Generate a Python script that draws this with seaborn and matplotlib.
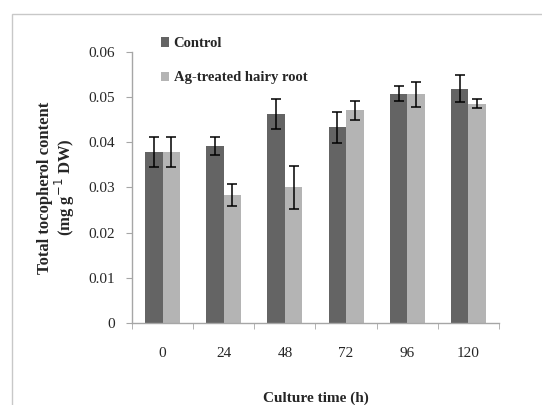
import numpy as np
import pandas as pd
import matplotlib
matplotlib.use("Agg")
import matplotlib.pyplot as plt
import seaborn as sns
from matplotlib.patches import Rectangle, Patch

# values
times = ["0", "24", "48", "72", "96", "120"]
control = [0.0379, 0.0392, 0.0462, 0.0433, 0.0508, 0.0519]
control_err = [0.0033, 0.0019, 0.0033, 0.0035, 0.0017, 0.0030]
treated = [0.0379, 0.0283, 0.0300, 0.0471, 0.0506, 0.0485]
treated_err = [0.0033, 0.0025, 0.0048, 0.0021, 0.0028, 0.0010]
groups = ["Control", "Ag-treated hairy root"]
colors = ["#646464", "#b4b4b4"]

df = pd.DataFrame({
    "time": times * 2,
    "value": control + treated,
    "err": control_err + treated_err,
    "group": [groups[0]] * len(times) + [groups[1]] * len(times),
})

sns.set_style("white")
plt.rcParams["font.family"] = ["Liberation Serif", "DejaVu Serif"]

fig = plt.figure(figsize=(5.42, 4.05), dpi=100)
ax = fig.add_axes([0.2435, 0.2025, 0.6772, 0.6691])

sns.barplot(data=df, x="time", y="value", hue="group", order=times,
            hue_order=groups, palette=colors, width=0.57, gap=0,
            errorbar=None, saturation=1, linewidth=0, legend=False, ax=ax)

# error bars at the bar centres
for cont, g in zip(ax.containers, groups):
    sub = df[df["group"] == g].set_index("time").loc[times]
    xs = [p.get_x() + p.get_width() / 2 for p in cont.patches]
    ax.errorbar(xs, sub["value"], yerr=sub["err"], fmt="none",
                ecolor="black", elinewidth=1.1, capsize=3.5, capthick=1.1)

ax.set_xlim(-0.5, len(times) - 0.5)
ax.set_ylim(0, 0.06)
ax.set_yticks(np.arange(0, 0.061, 0.01))
ax.set_yticklabels(["0", "0.01", "0.02", "0.03", "0.04", "0.05", "0.06"])
ax.set_xticks(np.arange(-0.5, len(times), 1.0), minor=True)

for s in ["top", "right"]:
    ax.spines[s].set_visible(False)
for s in ["left", "bottom"]:
    ax.spines[s].set_color("#a6a6a6")
    ax.spines[s].set_linewidth(1.0)

ax.tick_params(axis="x", which="major", length=0, pad=17.5, labelsize=11)
ax.tick_params(axis="x", which="minor", length=4, color="#a6a6a6",
               direction="out", bottom=True)
ax.tick_params(axis="y", length=4.5, color="#a6a6a6", direction="out",
               left=True, pad=8, labelsize=11)

ax.set_xlabel("Culture time (h)", fontsize=11, fontweight="bold", va="top")
ax.xaxis.set_label_coords(0.5, -0.252)
ax.set_ylabel("Total tocopherol content\n(mg g$^{-1}$ DW)", fontsize=12,
              fontweight="bold", linespacing=1.0)
ax.yaxis.set_label_coords(-0.15, 0.5)

handles = [Patch(facecolor=c, edgecolor="none") for c in colors]
fig.legend(handles, groups, loc="upper left",
           bbox_to_anchor=(0.2975, 0.908), frameon=False,
           prop={"weight": "bold", "size": 10.5}, handlelength=0.55,
           handleheight=0.6, handletextpad=0.3, labelspacing=1.45,
           borderpad=0, borderaxespad=0)

# light frame round the chart area
fig.patches.append(Rectangle((12 / 542, -0.1), 1.2, 1 - 14 / 405 + 0.1,
                             transform=fig.transFigure, fill=False,
                             edgecolor="#c8c8c8", linewidth=1.0))

fig.savefig("out.png", dpi=100)
